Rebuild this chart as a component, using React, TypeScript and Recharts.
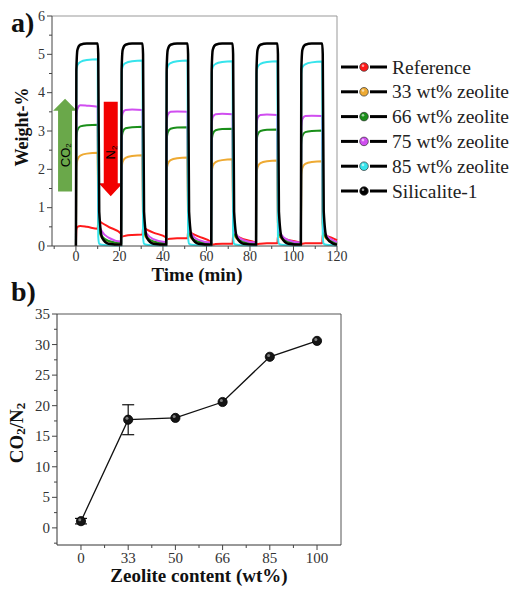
import React from "react";
import {
  ErrorBar,
  Legend,
  Line,
  LineChart,
  ReferenceArea,
  ReferenceLine,
  XAxis,
  YAxis,
} from "recharts";

const SERIF = "'Liberation Serif', 'Times New Roman', serif";
const SANS = "'Liberation Sans', Arial, sans-serif";

// ---- panel a: weight uptake, CO2 / N2 switching (6 cycles) ----
const TIME = [
  0, 0.2, 0.7, 2, 5, 10, 10.25, 10.7, 12, 15,
  20.8, 21, 21.5, 22.8, 25.8, 30.6, 30.85, 31.3, 32.6, 35.6,
  41.5, 41.7, 42.2, 43.5, 46.5, 51.3, 51.55, 52, 53.3, 56.3,
  62.2, 62.4, 62.9, 64.2, 67.2, 72, 72.25, 72.7, 74, 77,
  82.8, 83, 83.5, 84.8, 87.8, 92.6, 92.85, 93.3, 94.6, 97.6,
  103.4, 103.6, 104.1, 105.4, 108.4, 113.2, 113.45, 113.9, 115.2, 118.2,
  120,
];

const REFERENCE = [
  0, 0.42, 0.5, 0.52, 0.5, 0.45, 0.66, 0.65, 0.6, 0.5,
  0.32, 0.24, 0.25, 0.27, 0.29, 0.3, 0.48, 0.47, 0.43, 0.35,
  0.22, 0.17, 0.18, 0.19, 0.2, 0.2, 0.38, 0.37, 0.33, 0.25,
  0.1, 0.03, 0.04, 0.05, 0.06, 0.06, 0.3, 0.29, 0.25, 0.18,
  0.08, 0.04, 0.05, 0.06, 0.07, 0.07, 0.26, 0.25, 0.22, 0.16,
  0.08, 0.05, 0.06, 0.07, 0.07, 0.07, 0.3, 0.29, 0.26, 0.2,
  0.15,
];

const ZEOLITE_33 = [
  0, 2.05, 2.25, 2.36, 2.41, 2.43, 0.6, 0.35, 0.22, 0.12,
  0.07, 2.0, 2.2, 2.3, 2.35, 2.37, 0.55, 0.32, 0.2, 0.11,
  0.06, 1.95, 2.14, 2.24, 2.29, 2.31, 0.5, 0.3, 0.18, 0.1,
  0.06, 1.9, 2.09, 2.19, 2.24, 2.26, 0.5, 0.3, 0.18, 0.1,
  0.06, 1.88, 2.06, 2.16, 2.21, 2.23, 0.5, 0.3, 0.18, 0.1,
  0.06, 1.86, 2.04, 2.14, 2.19, 2.21, 0.5, 0.3, 0.18, 0.1,
  0.07,
];

const ZEOLITE_66 = [
  0, 2.8, 3.02, 3.12, 3.15, 3.16, 0.7, 0.4, 0.25, 0.13,
  0.08, 2.75, 2.97, 3.07, 3.1, 3.11, 0.65, 0.37, 0.23, 0.12,
  0.07, 2.74, 2.96, 3.06, 3.09, 3.1, 0.6, 0.35, 0.21, 0.11,
  0.07, 2.7, 2.92, 3.02, 3.05, 3.06, 0.6, 0.35, 0.21, 0.11,
  0.07, 2.68, 2.9, 3.0, 3.03, 3.04, 0.6, 0.35, 0.21, 0.11,
  0.07, 2.65, 2.87, 2.97, 3.0, 3.01, 0.6, 0.35, 0.21, 0.11,
  0.08,
];

const ZEOLITE_75 = [
  0, 3.35, 3.58, 3.67, 3.66, 3.63, 0.85, 0.55, 0.38, 0.22,
  0.12, 3.25, 3.47, 3.55, 3.56, 3.55, 0.75, 0.48, 0.32, 0.18,
  0.1, 3.2, 3.42, 3.5, 3.51, 3.5, 0.7, 0.45, 0.3, 0.16,
  0.09, 3.15, 3.36, 3.44, 3.45, 3.44, 0.65, 0.42, 0.28, 0.15,
  0.09, 3.13, 3.34, 3.42, 3.43, 3.42, 0.65, 0.42, 0.28, 0.15,
  0.09, 3.1, 3.31, 3.39, 3.4, 3.39, 0.65, 0.42, 0.28, 0.15,
  0.1,
];

const ZEOLITE_85 = [
  0, 4.55, 4.72, 4.8, 4.85, 4.87, 0.25, 0.06, 0.03, 0.02,
  0.01, 4.52, 4.69, 4.77, 4.82, 4.84, 0.25, 0.06, 0.03, 0.02,
  0.01, 4.52, 4.69, 4.77, 4.82, 4.84, 0.25, 0.06, 0.03, 0.02,
  0.01, 4.5, 4.67, 4.75, 4.8, 4.82, 0.25, 0.06, 0.03, 0.02,
  0.01, 4.5, 4.67, 4.75, 4.8, 4.82, 0.25, 0.06, 0.03, 0.02,
  0.01, 4.49, 4.66, 4.74, 4.79, 4.81, 0.25, 0.06, 0.03, 0.02,
  0.01,
];

const SILICALITE = [
  0, 4.6, 5.12, 5.25, 5.28, 5.28, 5.0, 0.9, 0.22, 0.06,
  0.03, 4.6, 5.12, 5.25, 5.28, 5.28, 5.0, 0.9, 0.22, 0.06,
  0.03, 4.6, 5.12, 5.25, 5.28, 5.28, 5.0, 0.9, 0.22, 0.06,
  0.03, 4.6, 5.12, 5.25, 5.28, 5.28, 5.0, 0.9, 0.22, 0.06,
  0.03, 4.6, 5.12, 5.25, 5.28, 5.28, 5.0, 0.9, 0.22, 0.06,
  0.03, 4.6, 5.12, 5.25, 5.28, 5.28, 5.0, 0.9, 0.22, 0.06,
  0.03,
];

const SERIES = [
  { key: "ref", name: "Reference", color: "#ff1a1a", values: REFERENCE, width: 2 },
  { key: "z33", name: "33 wt% zeolite", color: "#eeaa33", values: ZEOLITE_33, width: 2 },
  { key: "z66", name: "66 wt% zeolite", color: "#1a8f1a", values: ZEOLITE_66, width: 2 },
  { key: "z75", name: "75 wt% zeolite", color: "#d04ef0", values: ZEOLITE_75, width: 2 },
  { key: "z85", name: "85 wt% zeolite", color: "#36e4ec", values: ZEOLITE_85, width: 2 },
  { key: "sil", name: "Silicalite-1", color: "#000000", values: SILICALITE, width: 2.5 },
];

const X_TICKS_A = [-10, 0, 10, 20, 30, 40, 50, 60, 70, 80, 90, 100, 110, 120];
const Y_TICKS_A = [0, 0.5, 1, 1.5, 2, 2.5, 3, 3.5, 4, 4.5, 5, 5.5, 6];

// ---- panel b: CO2/N2 selectivity vs zeolite content ----
const ZEOLITE_CONTENT = ["0", "33", "50", "66", "85", "100"];
const SELECTIVITY = [1.1, 17.7, 18.0, 20.6, 28.0, 30.6];
const SELECTIVITY_ERR = [0.45, 2.45, null, null, null, null];
const X_TICKS_B = [0, 0.5, 1, 1.5, 2, 2.5, 3, 3.5, 4, 4.5, 5];
const Y_TICKS_B = [-2.5, 0, 2.5, 5, 7.5, 10, 12.5, 15, 17.5, 20, 22.5, 25, 27.5, 30, 32.5, 35];

const cycleData = TIME.map((t, i) => {
  const row: Record<string, number> = { t };
  SERIES.forEach((s) => {
    row[s.key] = s.values[i];
  });
  return row;
});

const ratioData = SELECTIVITY.map((v, i) => ({
  idx: i,
  ratio: v,
  err: SELECTIVITY_ERR[i],
}));

const isMultiple = (v: number, step: number) => Math.abs(v / step - Math.round(v / step)) < 1e-6;

function BottomTick(props: any) {
  const { x, y, payload, step, fontSize, gap, format } = props;
  const major = isMultiple(payload.value, step);
  return (
    <g>
      <line x1={x} y1={y} x2={x} y2={y + (major ? 5 : 3)} stroke="#444" strokeWidth={1} />
      {major && (
        <text x={x} y={y + gap} textAnchor="middle" fontFamily={SERIF} fontSize={fontSize} fill="#333">
          {format ? format(payload.value) : payload.value}
        </text>
      )}
    </g>
  );
}

function LeftTick(props: any) {
  const { x, y, payload, step, fontSize, gap } = props;
  const major = isMultiple(payload.value, step);
  return (
    <g>
      <line x1={x} y1={y} x2={x - (major ? 5 : 3)} y2={y} stroke="#444" strokeWidth={1} />
      {major && (
        <text x={x - gap} y={y} textAnchor="end" dominantBaseline="central" fontFamily={SERIF} fontSize={fontSize} fill="#333">
          {payload.value}
        </text>
      )}
    </g>
  );
}

function UpArrow(props: any) {
  const { x, y, width, height } = props;
  const cx = x + width / 2;
  const half = 7;
  const head = 12;
  const pts = [
    [cx, y], [x + width, y + head], [cx + half, y + head], [cx + half, y + height],
    [cx - half, y + height], [cx - half, y + head], [x, y + head],
  ].map((p) => p.join(",")).join(" ");
  const ty = y + head + (height - head) / 2 + 4;
  return (
    <g>
      <polygon points={pts} fill="#6aa84a" />
      <text x={cx} y={ty} transform={`rotate(-90 ${cx} ${ty})`} textAnchor="middle" dominantBaseline="central"
        fontFamily={SANS} fontSize={13} fill="#000">
        CO<tspan fontSize={8} dy={3}>2</tspan>
      </text>
    </g>
  );
}

function DownArrow(props: any) {
  const { x, y, width, height } = props;
  const cx = x + width / 2;
  const half = 7;
  const head = 13;
  const b = y + height;
  const pts = [
    [cx - half, y], [cx + half, y], [cx + half, b - head], [x + width, b - head],
    [cx, b], [x, b - head], [cx - half, b - head],
  ].map((p) => p.join(",")).join(" ");
  const ty = y + (height - head) / 2 + 10;
  return (
    <g>
      <polygon points={pts} fill="#f20000" />
      <text x={cx} y={ty} transform={`rotate(-90 ${cx} ${ty})`} textAnchor="middle" dominantBaseline="central"
        fontFamily={SANS} fontSize={13} fill="#000">
        N<tspan fontSize={8} dy={3}>2</tspan>
      </text>
    </g>
  );
}

function CycleLegend() {
  return (
    <svg width={180} height={160} style={{ overflow: "visible" }}>
      {SERIES.map((s, i) => {
        const cy = 12 + i * 24.8;
        return (
          <g key={s.key}>
            <line x1={3} x2={20} y1={cy} y2={cy} stroke="#000" strokeWidth={3} />
            <line x1={32} x2={49} y1={cy} y2={cy} stroke="#000" strokeWidth={3} />
            <circle cx={26} cy={cy} r={4.3} fill={s.color} stroke="#333" strokeWidth={0.7} />
            <circle cx={25} cy={cy - 1.3} r={1.3} fill="#fff" opacity={0.6} />
            <text x={54} y={cy} dominantBaseline="central" fontFamily={SERIF} fontSize={19.5} fill="#222">
              {s.name}
            </text>
          </g>
        );
      })}
    </svg>
  );
}

function Ball(props: any) {
  const { cx, cy } = props;
  if (cx == null || cy == null) return null;
  return (
    <g>
      <circle cx={cx} cy={cy} r={4.6} fill="#151515" stroke="#000" strokeWidth={0.8} />
      <circle cx={cx - 1.2} cy={cy - 1.4} r={1.5} fill="#fff" opacity={0.45} />
    </g>
  );
}

export default function App() {
  return (
    <div style={{ position: "absolute", left: 0, top: 0, width: 516, height: 594, background: "#fff" }}>
      <div style={{ position: "absolute", left: 0, top: 0 }}>
        <LineChart width={516} height={290} data={cycleData} margin={{ top: 16, right: 179, bottom: 0, left: 0 }}>
          <XAxis
            dataKey="t"
            type="number"
            domain={[-11, 120]}
            ticks={X_TICKS_A}
            interval={0}
            height={44}
            tickSize={0}
            tickMargin={0}
            stroke="#444"
            tick={(p: any) => <BottomTick {...p} step={20} fontSize={14} gap={15} />}
          />
          <YAxis
            type="number"
            domain={[0, 6]}
            ticks={Y_TICKS_A}
            interval={0}
            width={52}
            tickSize={0}
            tickMargin={0}
            stroke="#444"
            tick={(p: any) => <LeftTick {...p} step={1} fontSize={14} gap={7} />}
          />
          <ReferenceLine y={6} stroke="#999" strokeWidth={1} />
          <ReferenceLine x={120} stroke="#999" strokeWidth={1} />
          {SERIES.map((s) => (
            <Line
              key={s.key}
              dataKey={s.key}
              name={s.name}
              type="monotone"
              stroke={s.color}
              strokeWidth={s.width}
              dot={false}
              activeDot={false}
              isAnimationActive={false}
            />
          ))}
          <ReferenceArea x1={-10.5} x2={0.5} y1={1.42} y2={3.84} shape={(p: any) => <UpArrow {...p} />} />
          <ReferenceArea x1={10.5} x2={21.5} y1={1.3} y2={3.76} shape={(p: any) => <DownArrow {...p} />} />
          <Legend
            layout="vertical"
            align="center"
            verticalAlign="middle"
            content={() => <CycleLegend />}
            wrapperStyle={{ left: 338, top: 55, width: 180 }}
          />
        </LineChart>
      </div>

      <div style={{ position: "absolute", left: 0, top: 290 }}>
        <LineChart width={516} height={304} data={ratioData} margin={{ top: 24, right: 175, bottom: 0, left: 0 }}>
          <XAxis
            dataKey="idx"
            type="number"
            domain={[-0.508, 5.508]}
            ticks={X_TICKS_B}
            interval={0}
            height={49}
            tickSize={0}
            tickMargin={0}
            stroke="#333"
            tick={(p: any) => (
              <BottomTick {...p} step={1} fontSize={15} gap={18} format={(v: number) => ZEOLITE_CONTENT[v]} />
            )}
          />
          <YAxis
            type="number"
            domain={[-2.8, 35]}
            ticks={Y_TICKS_B}
            interval={0}
            width={57}
            tickSize={0}
            tickMargin={0}
            stroke="#333"
            tick={(p: any) => <LeftTick {...p} step={5} fontSize={15} gap={7} />}
          />
          <ReferenceLine y={35} stroke="#555" strokeWidth={1} />
          <ReferenceLine x={5.508} stroke="#555" strokeWidth={1} />
          <Line
            dataKey="ratio"
            type="linear"
            stroke="#111"
            strokeWidth={1.3}
            dot={(p: any) => <Ball key={p.index} {...p} />}
            activeDot={false}
            isAnimationActive={false}
          >
            <ErrorBar dataKey="err" width={6} stroke="#111" strokeWidth={1.2} />
          </Line>
        </LineChart>
      </div>

      <svg width={516} height={594} style={{ position: "absolute", left: 0, top: 0, pointerEvents: "none" }}>
        <text x={11} y={32} fontFamily={SERIF} fontWeight="bold" fontSize={28} fill="#111">a)</text>
        <text x={22} y={127} transform="rotate(-90 22 127)" textAnchor="middle" dominantBaseline="central"
          fontFamily={SERIF} fontWeight="bold" fontSize={18} fill="#111">Weight-%</text>
        <text x={197} y={281} textAnchor="middle" fontFamily={SERIF} fontWeight="bold" fontSize={19} fill="#111">
          Time (min)
        </text>

        <text x={11} y={301} fontFamily={SERIF} fontWeight="bold" fontSize={28} fill="#111">b)</text>
        <text x={16} y={433} transform="rotate(-90 16 433)" textAnchor="middle" dominantBaseline="central"
          fontFamily={SERIF} fontWeight="bold" fontSize={19} fill="#111">
          CO<tspan fontSize={13} dy={4}>2</tspan>
          <tspan dy={-4}>/N</tspan>
          <tspan fontSize={13} dy={4}>2</tspan>
        </text>
        <text x={199} y={582} textAnchor="middle" fontFamily={SERIF} fontWeight="bold" fontSize={19} fill="#111">
          Zeolite content (wt%)
        </text>
      </svg>
    </div>
  );
}
